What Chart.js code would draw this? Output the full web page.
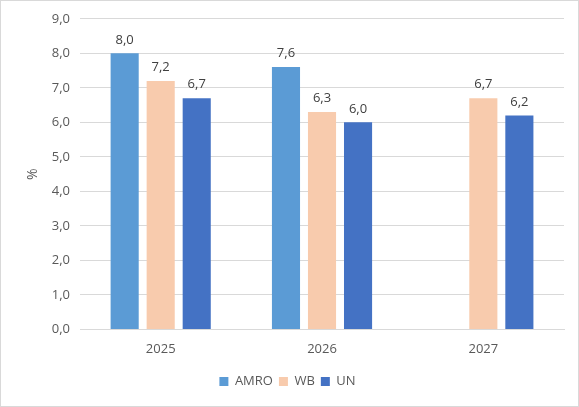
<!DOCTYPE html>
<html><head><meta charset="utf-8">
<script src="https://cdn.jsdelivr.net/npm/chart.js@4"></script>
<style>
html,body{margin:0;padding:0;background:#fff;}
#wrap{position:absolute;left:0;top:0;width:577px;height:405px;border:1px solid #d9d9d9;}
canvas{display:block;}
</style></head><body>
<div id="wrap"><canvas id="c" width="577" height="405"></canvas></div>
<script>
const categories = ["2025", "2026", "2027"];
const amro = [8.0, 7.6, null];
const wb = [7.2, 6.3, 6.7];
const un = [6.7, 6.0, 6.2];
const seriesNames = ["AMRO", "WB", "UN"];
const yTicks = [0,1,2,3,4,5,6,7,8,9];

const fmt = v => v.toFixed(1).replace('.', ',');
const FONT = "'Open Sans', 'Liberation Sans', sans-serif";

const labelPlugin = {
  id: 'barLabels',
  afterDatasetsDraw(chart) {
    const ctx = chart.ctx;
    ctx.save();
    ctx.fillStyle = '#404040';
    ctx.font = "13px " + FONT;
    ctx.textAlign = 'center';
    ctx.textBaseline = 'bottom';
    chart.data.datasets.forEach((ds, i) => {
      const meta = chart.getDatasetMeta(i);
      meta.data.forEach((el, j) => {
        const v = ds.data[j];
        if (v === null || v === undefined) return;
        ctx.fillText(fmt(v), el.x, el.y - 7);
      });
    });
    ctx.restore();
  }
};

new Chart(document.getElementById('c'), {
  type: 'bar',
  data: {
    labels: categories,
    datasets: [
      {label: seriesNames[0], data: amro, backgroundColor: '#5B9BD5'},
      {label: seriesNames[1], data: wb, backgroundColor: '#F8CBAD'},
      {label: seriesNames[2], data: un, backgroundColor: '#4472C4'}
    ]
  },
  options: {
    responsive: false,
    animation: false,
    layout: {padding: {left: 10, right: 14, top: 8, bottom: 8}},
    datasets: {bar: {categoryPercentage: 0.67, barPercentage: 0.78}},
    scales: {
      x: {
        grid: {display: false, drawTicks: false},
        border: {color: '#d9d9d9'},
        ticks: {color: '#595959', font: {family: FONT, size: 13}, padding: 12}
      },
      y: {
        min: 0, max: 9,
        afterBuildTicks: ax => { ax.ticks = yTicks.map(v => ({value: v})); },
        grid: {color: '#d9d9d9', drawTicks: false},
        border: {display: false},
        ticks: {color: '#595959', font: {family: FONT, size: 13}, padding: 10, callback: v => fmt(v)},
        title: {display: true, text: '%', color: '#595959', font: {family: FONT, size: 14}, padding: {top: 14, bottom: 0}}
      }
    },
    plugins: {
      legend: {
        position: 'bottom',
        labels: {color: '#595959', font: {family: FONT, size: 13}, boxWidth: 9, boxHeight: 9, padding: 6}
      },
      tooltip: {enabled: false}
    }
  },
  plugins: [labelPlugin]
});
</script>
</body></html>
